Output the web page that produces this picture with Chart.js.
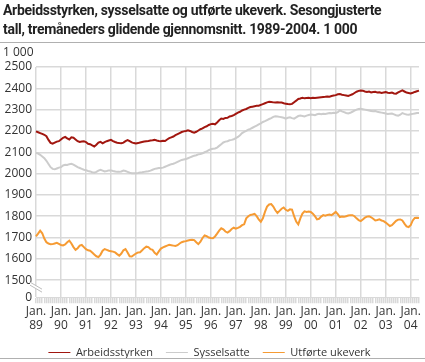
<!DOCTYPE html>
<html>
<head>
<meta charset="utf-8">
<script src="https://cdn.jsdelivr.net/npm/chart.js@4.4.1/dist/chart.umd.min.js"></script>
<style>
  html, body { margin: 0; padding: 0; background: #fff; }
  body { width: 425px; height: 362px; position: relative; overflow: hidden; font-family: 'Open Sans', sans-serif; color: #222; }
  #title { position: absolute; left: 3px; top: 1px; font-family: Roboto, sans-serif; font-size: 14px; font-weight: bold; letter-spacing: -0.3px; line-height: 19px; white-space: nowrap; }
  #unit { position: absolute; left: 3px; top: 43px; font-size: 12px; color: #333; }
  .rule { position: absolute; left: 0; width: 425px; height: 1px; background: #b0b0b0; }
  #wrap { position: absolute; left: 0; top: 0; width: 425px; height: 368px; }
</style>
</head>
<body>
<div id="wrap"><canvas id="chart"></canvas></div>
<div id="title">Arbeidsstyrken, sysselsatte og utførte ukeverk. Sesongjusterte<br>tall, tremåneders glidende gjennomsnitt. 1989-2004. 1 000</div>
<div class="rule" style="top:42px"></div>
<div id="unit">1 000</div>
<div class="rule" style="top:358px"></div>
<script>
// months Jan 1989 - May 2004
const years = ['89','90','91','92','93','94','95','96','97','98','99','00','01','02','03','04'];
const months = [];
years.forEach((yy, i) => {
  const n = i === years.length - 1 ? 5 : 12;
  for (let m = 0; m < n; m++) months.push(yy + '-' + (m + 1));
});

const arbeidsstyrken = [
  2198, 2194, 2190, 2186, 2182, 2175, 2158, 2144, 2140, 2145, 2150, 2152,
  2160, 2168, 2172, 2165, 2160, 2170, 2168, 2160, 2152, 2148, 2150, 2152,
  2148, 2140, 2138, 2132, 2127, 2135, 2145, 2149, 2142, 2148, 2152, 2155,
  2158, 2152, 2148, 2145, 2143, 2142, 2145, 2152, 2157, 2152, 2146, 2143,
  2141, 2143, 2146, 2148, 2150, 2152, 2153, 2155, 2156, 2158, 2155, 2153,
  2152, 2154, 2153, 2160, 2166, 2170, 2174, 2180, 2185, 2190, 2195, 2198,
  2200, 2203, 2200, 2195, 2192, 2196, 2202, 2208, 2212, 2218, 2222, 2228,
  2232, 2234, 2231, 2240, 2250, 2258, 2256, 2261, 2262, 2268, 2270, 2274,
  2280, 2286, 2290, 2296, 2300, 2303, 2308, 2312, 2314, 2316, 2318, 2318,
  2322, 2326, 2330, 2334, 2337, 2336, 2334, 2333, 2335, 2334, 2333, 2330,
  2328, 2326, 2325, 2327, 2335, 2342, 2350, 2352, 2356, 2353, 2355, 2356,
  2354, 2356, 2355, 2356, 2357, 2358, 2359, 2360, 2362, 2361, 2364, 2366,
  2368, 2372, 2373, 2370, 2368, 2366, 2364, 2368, 2372, 2378, 2384, 2388,
  2390, 2389, 2385, 2383, 2385, 2381, 2383, 2384, 2380, 2381, 2378, 2380,
  2382, 2379, 2378, 2380, 2376, 2375, 2381, 2386, 2390, 2385, 2380, 2378,
  2376, 2379, 2383, 2386, 2389
];

const sysselsatte = [
  2097, 2094, 2088, 2080, 2072, 2060, 2045, 2030, 2022, 2020, 2024, 2028,
  2030, 2038, 2041, 2040, 2044, 2046, 2042, 2036, 2030, 2026, 2022, 2018,
  2016, 2012, 2010, 2006, 2004, 2008, 2014, 2018, 2014, 2010, 2012, 2015,
  2015, 2012, 2010, 2008, 2008, 2010, 2014, 2012, 2008, 2004, 2002, 2002,
  2002, 2003, 2005, 2006, 2008, 2010, 2011, 2014, 2018, 2022, 2024, 2026,
  2026, 2028, 2032, 2036, 2040, 2044, 2046, 2050, 2055, 2060, 2064, 2066,
  2068, 2072, 2076, 2080, 2084, 2086, 2090, 2092, 2095, 2100, 2104, 2110,
  2114, 2116, 2118, 2122, 2130, 2138, 2146, 2150, 2152, 2156, 2158, 2161,
  2166, 2172, 2180, 2190, 2196, 2200, 2206, 2210, 2215, 2220, 2225, 2231,
  2236, 2242, 2246, 2251, 2256, 2260, 2266, 2269, 2268, 2266, 2264, 2262,
  2258, 2262, 2264, 2260, 2258, 2264, 2270, 2272, 2270, 2268, 2272, 2275,
  2277, 2276, 2274, 2278, 2280, 2278, 2281, 2280, 2282, 2284, 2283, 2285,
  2284, 2288, 2297, 2292, 2288, 2284, 2282, 2285, 2290, 2295, 2300, 2303,
  2304, 2302, 2300, 2298, 2296, 2294, 2292, 2293, 2290, 2288, 2286, 2284,
  2282, 2280, 2281, 2282, 2278, 2274, 2272, 2276, 2284, 2280, 2277, 2276,
  2278, 2280, 2282, 2284, 2284
];

const utforteUkeverk = [
  1705, 1718, 1732, 1720, 1695, 1678, 1672, 1668, 1669, 1672, 1675, 1670,
  1665, 1663, 1668, 1678, 1685, 1672, 1655, 1642, 1650, 1662, 1665, 1655,
  1645, 1640, 1638, 1630, 1620, 1612, 1608, 1620, 1638, 1646, 1642, 1638,
  1636, 1634, 1630, 1622, 1615, 1625, 1640, 1646, 1630, 1612, 1611, 1618,
  1625, 1630, 1631, 1640, 1650, 1657, 1655, 1645, 1642, 1628, 1620, 1635,
  1648, 1654, 1658, 1662, 1666, 1664, 1662, 1660, 1664, 1672, 1678, 1681,
  1683, 1686, 1688, 1690, 1688, 1678, 1669, 1680, 1698, 1710, 1706, 1700,
  1698, 1697, 1705, 1718, 1732, 1743, 1738, 1728, 1723, 1730, 1740, 1746,
  1742, 1745, 1750, 1758, 1762, 1790, 1800, 1806, 1808, 1811, 1800, 1785,
  1774, 1790, 1820, 1845, 1855, 1857, 1845, 1828, 1815, 1825, 1835, 1841,
  1830, 1825, 1832, 1831, 1800, 1775, 1762, 1790, 1812, 1823, 1820, 1822,
  1820, 1812, 1800, 1785, 1788, 1798, 1805, 1802, 1806, 1808, 1805, 1812,
  1820, 1810, 1796, 1798, 1797, 1800, 1803, 1805, 1805, 1800, 1790, 1782,
  1777, 1785, 1793, 1798, 1800, 1795, 1788, 1780, 1782, 1785, 1780, 1777,
  1770, 1762, 1754, 1758, 1768, 1778, 1784, 1785, 1780, 1765, 1752, 1749,
  1758, 1780, 1792, 1793, 1792
];

// y ticks; the lowest one sits on the broken axis and reads "0"
const yTicks = [1420, 1500, 1600, 1700, 1800, 1900, 2000, 2100, 2200, 2300, 2400, 2500];
const grid = '#d9d9d9';

Chart.defaults.font.family = "'Open Sans', sans-serif";
Chart.defaults.font.size = 12;
Chart.defaults.color = '#333';

// draws the axis break between 1500 and 0
const axisBreak = {
  id: 'axisBreak',
  afterDraw(chart) {
    const { ctx, chartArea } = chart;
    const y = chart.scales.y.getPixelForValue(1500);
    const x = chartArea.left;
    ctx.save();
    ctx.fillStyle = '#fff';
    ctx.beginPath();
    ctx.moveTo(x - 6, y + 2);
    ctx.lineTo(x + 6, y + 9);
    ctx.lineTo(x + 6, y + 12);
    ctx.lineTo(x - 6, y + 5);
    ctx.closePath();
    ctx.fill();
    ctx.strokeStyle = '#bdbdbd';
    ctx.lineWidth = 1;
    ctx.beginPath();
    ctx.moveTo(x - 6, y + 2); ctx.lineTo(x + 6, y + 9);
    ctx.moveTo(x - 6, y + 5); ctx.lineTo(x + 6, y + 12);
    ctx.stroke();
    ctx.restore();
  }
};

new Chart(document.getElementById('chart'), {
  type: 'line',
  data: {
    labels: months,
    datasets: [
      { label: 'Arbeidsstyrken', data: arbeidsstyrken, borderColor: '#a1160f', backgroundColor: '#a1160f' },
      { label: 'Sysselsatte', data: sysselsatte, borderColor: '#cccccc', backgroundColor: '#cccccc' },
      { label: 'Utførte ukeverk', data: utforteUkeverk, borderColor: '#f69b33', backgroundColor: '#f69b33' }
    ]
  },
  options: {
    responsive: true,
    maintainAspectRatio: false,
    animation: false,
    layout: { padding: { top: 67, right: 6, left: 0, bottom: 0 } },
    elements: {
      line: { borderWidth: 2, tension: 0 },
      point: { radius: 0 }
    },
    plugins: {
      legend: {
        position: 'bottom',
        labels: {
          usePointStyle: true,
          pointStyle: 'line',
          pointStyleWidth: 22,
          padding: 13,
          color: '#333',
          font: { size: 11 }
        }
      },
      tooltip: { enabled: false }
    },
    scales: {
      x: {
        ticks: {
          autoSkip: false,
          maxRotation: 0,
          padding: 1,
          callback: (v, i) => i % 12 === 0 ? ['Jan.', years[i / 12]] : ''
        },
        grid: {
          color: ctx => ctx.index % 12 === 0 ? grid : 'rgba(0,0,0,0)',
          tickColor: grid,
          tickLength: 6,
          lineWidth: 1.5
        },
        border: { display: true, color: grid }
      },
      y: {
        min: 1420,
        max: 2500,
        afterBuildTicks: scale => { scale.ticks = yTicks.map(v => ({ value: v })); },
        afterFit: scale => { scale.width = 36; },
        ticks: {
          padding: 4,
          callback: v => v === 1420 ? '0' : String(v)
        },
        grid: {
          color: ctx => ctx.tick && ctx.tick.value === 1420 ? 'rgba(0,0,0,0)' : grid,
          lineWidth: 1.5,
          drawTicks: false
        },
        border: { display: false }
      }
    }
  },
  plugins: [axisBreak]
});
</script>
</body>
</html>
